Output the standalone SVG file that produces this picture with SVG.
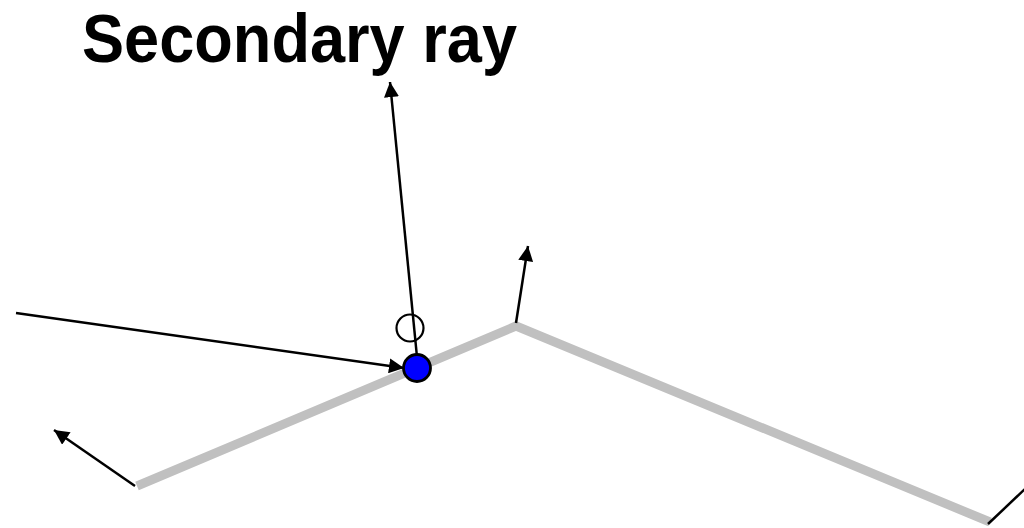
<svg xmlns="http://www.w3.org/2000/svg" width="1024" height="528" viewBox="0 0 1024 528">
<style>
.ray{stroke:#000;stroke-width:2.5;fill:none}
.surf{stroke:#C0C0C0;stroke-width:9;fill:none;stroke-linejoin:miter}
.lbl{font-family:"Liberation Sans",Arial,sans-serif;font-weight:bold;fill:#000}
</style>
<defs>
<marker id="ah" viewBox="0 0 10 10" refX="10" refY="5" markerWidth="6.2" markerHeight="6" orient="auto" markerUnits="strokeWidth">
<path d="M0,0 L10,5 L0,10 z" fill="#000"/>
</marker>
</defs>
<rect width="1024" height="528" fill="#fff"/>
<g id="surface">
<polyline class="surf" points="137,486 516,326 990,522"/>
</g>
<g id="connectors">
<line class="ray" x1="16" y1="313" x2="404" y2="368" marker-end="url(#ah)"/>
<line class="ray" x1="417" y1="357" x2="390" y2="82" marker-end="url(#ah)"/>
<line class="ray" x1="516" y1="323" x2="528" y2="246" marker-end="url(#ah)"/>
<line class="ray" x1="135" y1="486" x2="54" y2="430" marker-end="url(#ah)"/>
<line class="ray" x1="988" y1="524" x2="1026" y2="488"/>
</g>
<g id="open-point">
<circle cx="410" cy="328" r="13.5" fill="none" stroke="#000" stroke-width="2.2"/>
</g>
<g id="hit-point">
<circle cx="417" cy="368" r="13.5" fill="#0000FF" stroke="#000" stroke-width="2.8"/>
</g>
<g id="title">
<text class="lbl" x="82" y="62" font-size="68" textLength="435" lengthAdjust="spacingAndGlyphs">Secondary ray</text>
</g>
</svg>
